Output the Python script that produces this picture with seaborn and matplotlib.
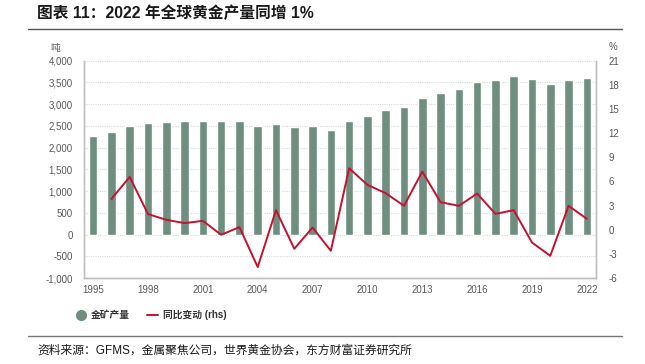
import numpy as np
import pandas as pd
import seaborn as sns
import matplotlib.pyplot as plt
from matplotlib.lines import Line2D

sns.set_theme(style="white")
plt.rcParams['font.family'] = ['Liberation Sans', 'Noto Sans CJK SC', 'DejaVu Sans']
plt.rcParams['axes.unicode_minus'] = False

# 数据（从图中读取，单位：吨 / %）
years = list(range(1995, 2023))
output_t = [2262, 2362, 2508, 2569, 2585, 2608, 2623, 2608, 2623, 2492,
            2546, 2469, 2492, 2415, 2608, 2738, 2869, 2938, 3146, 3262,
            3354, 3500, 3554, 3654, 3577, 3469, 3554, 3600]
yoy_years = list(range(1996, 2023))
yoy_pct = [3.83, 6.56, 1.94, 1.23, 0.82, 1.10, -0.63, 0.32, -4.64, 2.43,
           -2.37, 0.27, -2.62, 7.64, 5.57, 4.54, 2.97, 7.22, 3.42, 2.97,
           4.49, 1.97, 2.43, -1.59, -3.24, 2.97, 1.35]
xtick_years = list(range(1995, 2023, 3))

bar_color = "#6e8f80"
line_color = "#c8102e"
tick_color = "#595959"
frame_color = "#bfbfbf"

df_bar = pd.DataFrame({'year': years, 'output': output_t})
df_line = pd.DataFrame({'year': yoy_years, 'yoy': yoy_pct})

fig = plt.figure(figsize=(6.45, 3.64), dpi=100)
ax = fig.add_axes([84 / 645, 1 - 278 / 364, (596 - 84) / 645, (278 - 60.7) / 364])

sns.barplot(data=df_bar, x='year', y='output', native_scale=True, color=bar_color,
            width=0.47, saturation=1, ax=ax, zorder=2)
ax.set_xlim(1994.5, 2022.5)
ax.set_ylim(-1000, 4000)
ax.set_yticks(np.arange(-1000, 4001, 500))
ax.yaxis.set_major_formatter(plt.FuncFormatter(lambda v, p: f"{int(v):,}"))
ax.set_xticks(xtick_years)
ax.set_xlabel('')
ax.set_ylabel('')
ax.grid(axis='y', color='#d9d9d9', linestyle=(0, (1, 1)), linewidth=0.8, zorder=0)
ax.set_axisbelow(True)
ax.tick_params(axis='both', length=0, labelsize=7, labelcolor=tick_color)
ax.tick_params(axis='y', pad=8)
ax.tick_params(axis='x', pad=5)
for s in ax.spines.values():
    s.set_color(frame_color)
    s.set_linewidth(1)
ax.spines['top'].set_visible(False)

ax2 = ax.twinx()
sns.lineplot(data=df_line, x='year', y='yoy', color=line_color, linewidth=1.4, ax=ax2)
ax2.set_ylim(-6, 21)
ax2.set_yticks(np.arange(-6, 22, 3))
ax2.set_ylabel('')
ax2.set_xlabel('')
ax2.tick_params(axis='y', length=0, labelsize=7, labelcolor=tick_color, pad=9)
for s in ax2.spines.values():
    s.set_color(frame_color)
    s.set_linewidth(1)
ax2.spines['top'].set_visible(False)
ax2.grid(False)

fig.text(55 / 645, 1 - 47.5 / 364, '吨', fontsize=7, color=tick_color, style='italic',
         ha='center', va='center')
fig.text(613 / 645, 1 - 47 / 364, '%', fontsize=7, color=tick_color,
         ha='center', va='center')

# 标题与分隔线
fig.text(37 / 645, 1 - 13 / 364, '图表 11：2022 年全球黄金产量同增 1%', fontsize=11.3,
         fontweight='bold', color='#1a1a1a', ha='left', va='center')
fig.add_artist(Line2D([28 / 645, 622 / 645], [1 - 29 / 364] * 2, color='#555555', lw=1))
fig.add_artist(Line2D([28 / 645, 622 / 645], [1 - 336 / 364] * 2, color='#777777', lw=1))

handles = [Line2D([], [], marker='o', linestyle='none', markersize=7,
                  markerfacecolor=bar_color, markeredgecolor=bar_color),
           Line2D([], [], color=line_color, linewidth=1.4)]
fig.legend(handles, ['金矿产量', '同比变动 (rhs)'], loc='center left',
           bbox_to_anchor=(66 / 645, 1 - 315 / 364), ncol=2, frameon=False,
           prop={'size': 7, 'weight': 'bold'}, handlelength=1.2, handletextpad=0.5,
           columnspacing=1.7, labelcolor='#333333')

fig.text(37 / 645, 1 - 351 / 364, '资料来源：GFMS，金属聚焦公司，世界黄金协会，东方财富证券研究所',
         fontsize=8.5, color='#1a1a1a', ha='left', va='center')

fig.savefig('out.png', dpi=100)
